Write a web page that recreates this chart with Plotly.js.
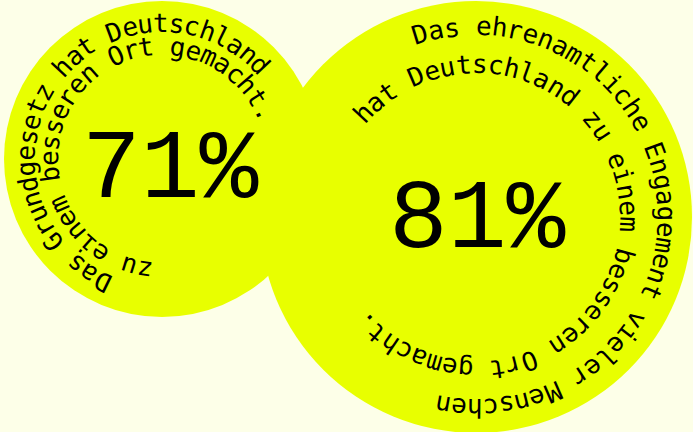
<!DOCTYPE html>
<html><head><meta charset="utf-8">
<script src="https://cdn.plot.ly/plotly-3.0.1.min.js"></script>
<style>html,body{margin:0;padding:0;background:#FDFFE8;} #chart{width:693px;height:432px;}</style>
</head><body><div id="chart"></div>
<script>
// ---- data ----
const labels = ["Grundgesetz", "Ehrenamt"];
const values = [71, 81];
const outerTexts = ["Das Grundgesetz hat Deutschland", "Das ehrenamtliche Engagement vieler Menschen"];
const innerTexts = ["zu einem besseren Ort gemacht.", "hat Deutschland zu einem besseren Ort gemacht."];

// ---- layout geometry (pixels) ----
const W = 693, H = 432;
const BG = "#FDFFE8", FILL = "#E8FF00", INK = "#000000";
const MONO = "DejaVu Sans Mono, Liberation Mono, monospace";
const NUMF = "Liberation Mono, DejaVu Sans Mono, monospace";
const geom = [
  {cx:162, cy:159, r:158, lx:170, ly:170, adv:14.8, outer:{start:116, rb:127}, inner:{start:99, rb:104}},
  {cx:476, cy:217, r:216, lx:477, ly:220, adv:15.3, outer:{start:253, rb:182}, inner:{start:222.7, rb:144}}
];
const CURVE_FONT = 26, NUM_FONT = 98, MID = 9;

const shapes = [];
const annotations = [];

function curved(text, g, line) {
  const step = g.adv / line.rb * 180 / Math.PI;
  const R = line.rb + MID;
  for (let k = 0; k < text.length; k++) {
    const ch = text[k];
    const th = line.start + k * step;
    if (ch === " ") continue;
    const t = th * Math.PI / 180;
    let rot = ((th + 90) % 360 + 360) % 360;
    if (rot > 180) rot -= 360;
    annotations.push({
      x: g.cx + R * Math.cos(t), y: g.cy + R * Math.sin(t),
      xref: "x", yref: "y", text: ch, showarrow: false,
      xanchor: "center", yanchor: "middle", textangle: rot,
      font: {family: MONO, size: CURVE_FONT, color: INK}
    });
  }
}

values.forEach((v, i) => {
  const g = geom[i];
  shapes.push({type: "circle", xref: "x", yref: "y", layer: "below",
    x0: g.cx - g.r, x1: g.cx + g.r, y0: g.cy - g.r, y1: g.cy + g.r,
    fillcolor: FILL, line: {width: 0}});
  annotations.push({x: g.lx, y: g.ly, xref: "x", yref: "y", text: v + "%", showarrow: false,
    xanchor: "center", yanchor: "middle", font: {family: NUMF, size: NUM_FONT, color: INK}});
  curved(outerTexts[i], g, g.outer);
  curved(innerTexts[i], g, g.inner);
});

const data = [{x: values.map((v, i) => geom[i].cx), y: values.map((v, i) => geom[i].cy),
  text: labels, type: "scatter", mode: "markers", marker: {size: 1, opacity: 0}, hoverinfo: "skip", showlegend: false}];

const layout = {
  width: W, height: H, margin: {l: 0, r: 0, t: 0, b: 0},
  paper_bgcolor: BG, plot_bgcolor: "rgba(0,0,0,0)",
  xaxis: {range: [0, W], visible: false, fixedrange: true},
  yaxis: {range: [H, 0], visible: false, fixedrange: true},
  shapes: shapes, annotations: annotations, showlegend: false
};
Plotly.newPlot("chart", data, layout, {staticPlot: true, displayModeBar: false});
</script></body></html>
